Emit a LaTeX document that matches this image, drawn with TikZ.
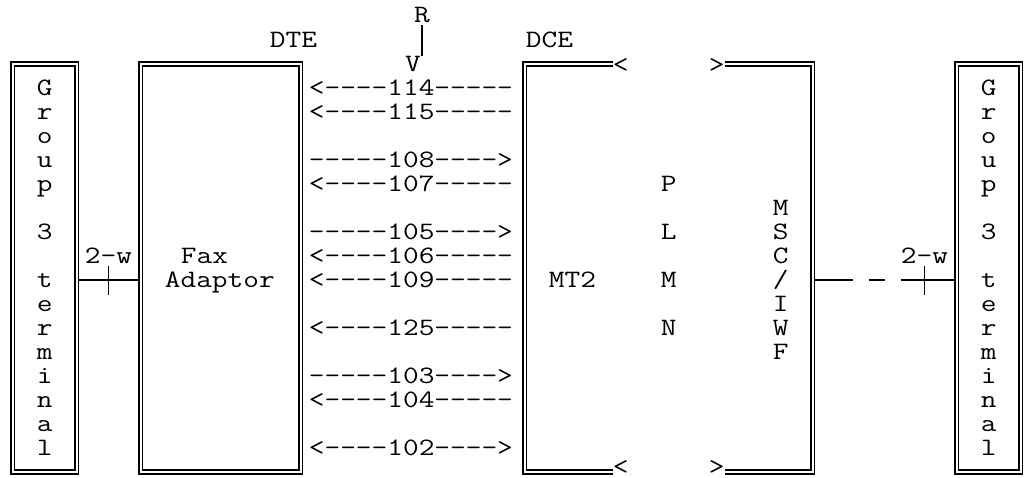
\documentclass[tikz,border=0pt]{standalone}
\usepackage{graphicx}
\newcommand{\asc}[1]{\scalebox{1.219}[1]{#1}}
\begin{document}
\begin{tikzpicture}[x=1pt,y=-1pt,
  txt/.style={inner sep=0pt, anchor=base west, font=\fontsize{25}{25}\selectfont\ttfamily},
  ctxt/.style={txt, anchor=base},
  dbl/.style={draw, double, double distance=2.2pt, line width=1.5pt},
  boxd/.style={dbl, inner sep=0pt, outer sep=1.85pt, minimum width=64pt, minimum height=408pt},
  wire/.style={line width=1.1pt}]
\useasboundingbox (0,0) rectangle (1024,477);
% boxes
\node[boxd] (lgrp) at (44.7,268) {};
\node[boxd, minimum width=160pt] (fax) at (220.7,268) {};
\node[boxd] (rgrp) at (988.7,268) {};
\draw[dbl] (612.7,64) coordinate (mtA) -- (524.7,64) -- (524.7,472) -- (612.7,472) coordinate (mtB);
\draw[dbl] (724.7,64) coordinate (mscA) -- (812.7,64) -- (812.7,472) -- (724.7,472) coordinate (mscB);
% header texts
\node[ctxt] (R) at (422,22.6) {\asc{R}};
\node[ctxt] (dte) at (293.5,47.6) {\asc{DTE}};
\node[ctxt] (dce) at (549.5,47.6) {\asc{DCE}};
\node[ctxt] (V) at (413,71.6) {\asc{V}};
\draw[wire] ([yshift=-2pt]R.south) -- (R.south |- V.north);
\node[ctxt] (lt1) at (620.7,72.6) {\asc{<}};
\node[ctxt] (gt1) at (716.7,72.6) {\asc{>}};
\node[ctxt] (lt2) at (620.7,474.5) {\asc{<}};
\node[ctxt] (gt2) at (716.7,474.5) {\asc{>}};
% interface lines
\node[txt] (a114) at (308.7,95.6)  {\asc{<-{}-{}-{}-114-{}-{}-{}-{}-}};
\node[txt] (a115) at (308.7,119.6) {\asc{<-{}-{}-{}-115-{}-{}-{}-{}-}};
\node[txt] (a108) at (308.7,167.6) {\asc{-{}-{}-{}-{}-108-{}-{}-{}->}};
\node[txt] (a107) at (308.7,191.6) {\asc{<-{}-{}-{}-107-{}-{}-{}-{}-}};
\node[txt] (a105) at (308.7,239.6) {\asc{-{}-{}-{}-{}-105-{}-{}-{}->}};
\node[txt] (a106) at (308.7,263.6) {\asc{<-{}-{}-{}-106-{}-{}-{}-{}-}};
\node[txt] (a109) at (308.7,287.6) {\asc{<-{}-{}-{}-109-{}-{}-{}-{}-}};
\node[txt] (a125) at (308.7,335.6) {\asc{<-{}-{}-{}-125-{}-{}-{}-{}-}};
\node[txt] (a103) at (308.7,383.6) {\asc{-{}-{}-{}-{}-103-{}-{}-{}->}};
\node[txt] (a104) at (308.7,407.6) {\asc{<-{}-{}-{}-104-{}-{}-{}-{}-}};
\node[txt] (a102) at (308.7,455.6) {\asc{<-{}-{}-{}-102-{}-{}-{}->}};
% group 3 terminals
\foreach \c/\r in {G/3,r/4,o/5,u/6,p/7,3/9,t/11,e/12,r/13,m/14,i/15,n/16,a/17,l/18} {
  \node[ctxt] (gl\r) at (44.7,{23.6+24*\r}) {\asc{\c}};
  \node[ctxt] (gr\r) at (988.7,{23.6+24*\r}) {\asc{\c}};
}
% labels
\node[txt] (fax1) at (180.7,263.6) {\asc{Fax}};
\node[txt] (fax2) at (164.7,287.6) {\asc{Adaptor}};
\node[txt] (mt2) at (548.7,287.6) {\asc{MT2}};
\foreach \c/\r in {P/7,L/9,M/11,N/13} {
  \node[ctxt] (pl\r) at (668.7,{23.6+24*\r}) {\asc{\c}};
}
\foreach \c/\r in {M/8,S/9,C/10,I/12,W/13,F/14} {
  \node[ctxt] (ms\r) at (780.7,{23.6+24*\r}) {\asc{\c}};
}
\node[ctxt] (ms11) at (780.7,287.6) {\asc{/}};
\node[txt] (tw1) at (84.7,263.6) {\asc{2-w}};
\node[txt] (tw2) at (900.7,263.6) {\asc{2-w}};
% connectors
\coordinate (w1) at (0,280);
\draw[wire] (lgrp.east |- w1) -- (fax.west |- w1);
\coordinate (t1) at (108.7,280);
\draw[wire] ([yshift=14.5pt]t1) -- ([yshift=-14.5pt]t1);
\coordinate (msc) at (814.55,280);
\draw[wire, dash pattern=on 38pt off 16pt on 16pt off 16pt on 80pt] (msc) -- (rgrp.west |- msc);
\coordinate (t2) at (924.7,280);
\draw[wire] ([yshift=14.5pt]t2) -- ([yshift=-14.5pt]t2);
\end{tikzpicture}
\end{document}
